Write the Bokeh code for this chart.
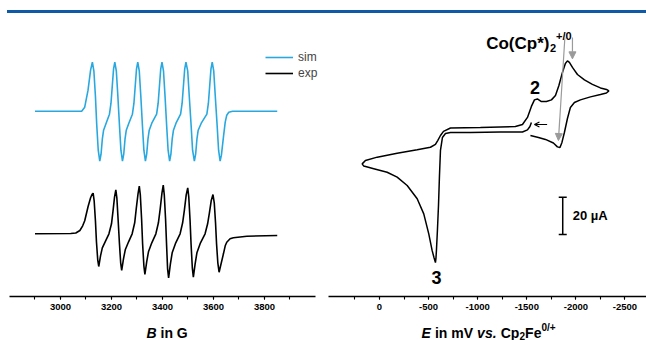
from bokeh.plotting import figure
from bokeh.models import (Range1d, FixedTicker, Label, Arrow, NormalHead, OpenHead,
                          Whisker, TeeHead, ColumnDataSource, Div)
from bokeh.layouts import column, row
from bokeh.embed import file_html
from bokeh.resources import INLINE

FONT = "Liberation Sans"

# ---------------- EPR data (B in G, intensity in a.u.) ----------------
sim_B = [2900, 3083, 3095, 3108, 3118, 3125,
         3131, 3137, 3142, 3148, 3154,
         3159, 3164, 3169, 3179, 3192, 3198, 3203, 3208, 3213,
         3219, 3225, 3231, 3237, 3243,
         3248, 3253, 3258, 3268, 3282, 3288, 3293, 3298, 3303,
         3309, 3315, 3321, 3327, 3333,
         3338, 3343, 3348, 3358, 3377, 3383, 3388, 3393, 3398,
         3404, 3410, 3416, 3422, 3428,
         3433, 3438, 3443, 3453, 3471, 3477, 3482, 3487, 3492,
         3499, 3505, 3512, 3518, 3525,
         3530, 3535, 3540, 3552, 3574, 3580, 3585, 3590, 3595,
         3601, 3607, 3614, 3620, 3626,
         3631, 3639, 3646, 3652, 3660, 3675, 3850]
sim_I = [0, 0, 4, 21, 41, 49,
         40, 15, -13, -39, -50,
         -43, -28, -19, -12, -3, 8, 25, 42, 49,
         40, 15, -13, -39, -50,
         -43, -28, -19, -12, -3, 8, 25, 42, 49,
         40, 15, -13, -39, -50,
         -43, -28, -19, -12, -3, 8, 25, 42, 49,
         40, 15, -13, -39, -50,
         -43, -28, -19, -12, -3, 8, 25, 42, 49,
         40, 15, -13, -39, -50,
         -43, -28, -19, -12, -3, 8, 25, 42, 49,
         40, 15, -13, -39, -50,
         -44, -26, -11, -4, -1, 0, 0]

exp_B = [2900, 3040, 3060, 3076, 3087, 3095, 3108, 3118, 3124, 3128,
         3132, 3137, 3141, 3146, 3150,
         3157, 3164, 3177, 3190, 3200, 3206, 3212, 3217,
         3221, 3226, 3231, 3236, 3240,
         3247, 3254, 3267, 3281, 3291, 3297, 3304, 3309,
         3313, 3318, 3322, 3327, 3331,
         3338, 3345, 3358, 3374, 3384, 3391, 3398, 3403,
         3407, 3412, 3416, 3420, 3424,
         3431, 3438, 3452, 3469, 3479, 3486, 3493, 3499,
         3503, 3508, 3512, 3517, 3521,
         3528, 3535, 3549, 3567, 3577, 3584, 3591, 3598,
         3603, 3608, 3612, 3617, 3622,
         3627, 3639, 3646, 3652, 3665, 3678, 3731, 3850]
exp_I = [0, 0.3, 0.8, 3.3, 8, 13, 27, 36, 39.5, 40.6,
         33, 13, -8, -26, -32.7,
         -22, -14, -7, 0, 10, 23, 37, 44,
         36, 14, -9, -29, -36.7,
         -25, -16, -8, 0, 11, 25, 40, 47.6,
         39, 15, -10, -32, -40.7,
         -28, -18, -9, 0, 11, 25, 41, 48.6,
         39, 15, -11, -35, -44,
         -30, -19, -9, 0, 11, 24, 39, 46,
         37, 14, -10, -34, -43.4,
         -30, -19, -9, 0, 10, 21, 33, 39.3,
         31, 11, -10, -29, -38.4,
         -33, -20, -12, -8.4, -5, -4, -2.4, -1.7]

B_major_ticks = [3000, 3200, 3400, 3600, 3800]
B_minor_ticks = [2900, 3000, 3100, 3200, 3300, 3400, 3500, 3600, 3700, 3800, 3900]

# ---------------- CV data (E in mV vs Fc, I in uA) ----------------
cv_E = [-1547, -1532, -1507, -1456, -1232, -926, -723, -672, -641, -621,
        -611, -601, -590, -580, -575, -570, -555, -536, -502, -451,
        -384, -282, -180, -78, 58, 160, 176, 143, 23, -180,
        -384, -519, -570, -593, -621, -652, -723, -1028, -1384, -1456,
        -1507, -1547, -1578, -1608, -1649, -1700, -1751, -1792, -1827, -1863,
        -1893, -1914, -1934, -1965, -2016, -2087, -2168, -2250, -2311, -2336,
        -2311, -2250, -2148, -2046, -1985, -1944, -1914, -1883, -1858, -1838,
        -1812, -1771, -1690, -1619, -1537]
cv_I = [4.3, 2.1, 0.3, -0.8, -0.8, -1.1, -1.1, -1.6, -3.8, -10.7,
        -24.1, -40.2, -53.6, -64.3, -68.6, -70.8, -68.1, -64.3, -55.4, -44.7,
        -36.6, -29.5, -25.0, -22.4, -20.5, -19.1, -17.9, -16.1, -14.3, -12.2,
        -10.3, -9.0, -7.5, -5.4, -2.7, -0.5, 1.3, 1.6, 2.1, 3.2,
        7.0, 12.9, 16.4, 16.9, 15.5, 15.5, 16.4, 18.8, 24.1, 31.1,
        35.9, 37.3, 36.5, 33.8, 30.0, 27.1, 24.7, 22.8, 22.0, 21.2,
        20.1, 19.3, 18.0, 16.4, 15.0, 12.3, 6.4, -1.1, -6.4, -9.1,
        -8.8, -6.7, -4.8, -3.8, -2.7]

E_major_ticks = [0, -500, -1000, -1500, -2000, -2500]
E_minor_ticks = [250, 0, -250, -500, -750, -1000, -1250, -1500, -1750, -2000, -2250, -2500]

# scale bar (20 uA)
scale_E = [-1866]
scale_low = [-55.8]
scale_len = 20

# annotation anchors (data coordinates)
peak2_label = (-1583, 23.1)
peak3_label = (-580, -78.8)
co_label_anchor = (-1731, 46.4)
co_arrow_long = (-1888, 49.9, -1822, -5.4)
co_arrow_short = (-1965, 49.9, -1965, 38.4)
scan_arrow = (-1707, 3.2, -1578, 3.2)

SIM_OFFSET = 185.3
EXP_OFFSET = 62.7
SIM_COLOR = "#29a8df"
GREY = "#9a9a9a"


def style_axis(ax, major, minor):
    ax.ticker = FixedTicker(ticks=major, minor_ticks=minor)
    ax.major_label_overrides = {t: str(t) for t in major}
    ax.axis_line_width = 1.3
    ax.axis_line_color = "black"
    ax.major_tick_out = 3
    ax.major_tick_in = 0
    ax.minor_tick_out = 3
    ax.minor_tick_in = 0
    ax.major_tick_line_width = 1.1
    ax.minor_tick_line_width = 1.1
    ax.major_label_text_font = FONT
    ax.major_label_text_font_style = "bold"
    ax.major_label_text_font_size = "9.5px"
    ax.major_label_text_color = "black"
    ax.major_label_standoff = 4


def lab(p, x, y, text, size, style="bold", align="left", baseline="alphabetic", xo=0, color="black"):
    p.add_layout(Label(x=x, y=y, text=text, text_font=FONT, text_font_size=size,
                       text_font_style=style, text_align=align, text_baseline=baseline,
                       x_offset=xo, text_color=color))


def bare(p):
    p.outline_line_color = None
    p.grid.visible = False


# ---------------- left panel ----------------
p1 = figure(width=322, height=305, x_range=Range1d(2800, 4027.5), y_range=Range1d(0, 283),
            output_backend="svg", toolbar_location=None, y_axis_location=None,
            min_border_left=9, min_border_right=0, min_border_top=0, min_border_bottom=22)
bare(p1)
p1.line(sim_B, [v + SIM_OFFSET for v in sim_I], line_color=SIM_COLOR, line_width=1.6, legend_label="sim")
p1.line(exp_B, [v + EXP_OFFSET for v in exp_I], line_color="black", line_width=1.6, legend_label="exp")
style_axis(p1.xaxis[0], B_major_ticks, B_minor_ticks)
p1.xaxis[0].bounds = (2800, 4000)

lg = p1.legend[0]
lg.location = (256, 216)
lg.padding = 0
lg.margin = 0
lg.spacing = 2
lg.glyph_width = 28
lg.glyph_height = 14
lg.label_height = 14
lg.label_standoff = 5
lg.border_line_color = None
lg.background_fill_alpha = 0
lg.label_text_font = FONT
lg.label_text_font_size = "12px"

# ---------------- right panel ----------------
p2 = figure(width=324, height=305, x_range=Range1d(519, -2719), y_range=Range1d(-89.0, 62.7),
            output_backend="svg", toolbar_location=None, y_axis_location=None,
            min_border_left=6, min_border_right=0, min_border_top=0, min_border_bottom=22)
bare(p2)
p2.line(cv_E, cv_I, line_color="black", line_width=1.5)
style_axis(p2.xaxis[0], E_major_ticks, E_minor_ticks)

# scale bar
sb = ColumnDataSource(dict(base=scale_E, lower=scale_low, upper=[v + scale_len for v in scale_low]))
p2.add_layout(Whisker(source=sb, base="base", lower="lower", upper="upper", dimension="height",
                      line_width=1.5, line_color="black",
                      upper_head=TeeHead(size=8, line_width=1.5, line_color="black"),
                      lower_head=TeeHead(size=8, line_width=1.5, line_color="black")))
lab(p2, scale_E[0], scale_low[0] + scale_len / 2, "%d\u00a0µA" % scale_len, "13px", align="left",
    baseline="middle", xo=10)

# peak labels
lab(p2, peak2_label[0], peak2_label[1], "2", "18px", align="center", baseline="middle")
lab(p2, peak3_label[0], peak3_label[1], "3", "18px", align="center", baseline="middle")
lab(p2, co_label_anchor[0], co_label_anchor[1], "Co(Cp*)", "17px", align="right")
lab(p2, co_label_anchor[0], co_label_anchor[1] - 2.1, "2", "11px", align="left", xo=0.5)
lab(p2, co_label_anchor[0], co_label_anchor[1] + 4.0, "+/0", "11px", align="left", xo=6.5)

# grey arrows
for (xs, ys, xe, ye) in (co_arrow_long, co_arrow_short):
    p2.add_layout(Arrow(x_start=xs, y_start=ys, x_end=xe, y_end=ye, line_color=GREY, line_width=1.2,
                        end=NormalHead(size=7, fill_color=GREY, line_color=GREY, line_width=1)))
# scan direction arrow
p2.add_layout(Arrow(x_start=scan_arrow[0], y_start=scan_arrow[1], x_end=scan_arrow[2], y_end=scan_arrow[3],
                    line_color="black", line_width=1.1,
                    end=OpenHead(size=5, line_color="black", line_width=1.1)))

# ---------------- axis titles strip ----------------
pt = figure(width=646, height=22, x_range=Range1d(0, 646), y_range=Range1d(0, 22),
            output_backend="svg", toolbar_location=None, x_axis_location=None, y_axis_location=None,
            min_border_left=0, min_border_right=0, min_border_top=0, min_border_bottom=0)
bare(pt)
pt.background_fill_alpha = 0
pt.border_fill_alpha = 0
# "B in G"
lab(pt, 146, 8, "B", "14px", style="bold italic")
lab(pt, 146, 8, "in\u00a0G", "14px", xo=14.0)
# "E in mV vs. Cp2Fe0/+"
tx = 421
lab(pt, tx, 8, "E", "14px", style="bold italic")
lab(pt, tx, 8, "in\u00a0mV", "14px", xo=13.4)
lab(pt, tx, 8, "vs.", "14px", style="bold italic", xo=55.6)
lab(pt, tx, 8, "Cp", "14px", xo=79.2)
lab(pt, tx, 5, "2", "10px", xo=98.0)
lab(pt, tx, 8, "Fe", "14px", xo=103.6)
lab(pt, tx, 13, "0/+", "10px", xo=120.0)

rule = Div(width=639, height=3, margin=(10, 0, 0, 7), styles={"background-color": "#0f5aa6"})
layout = column(rule, row(p1, p2, spacing=0, margin=0), pt, spacing=0, margin=0)

open("out.html", "w").write(file_html(layout, INLINE))
